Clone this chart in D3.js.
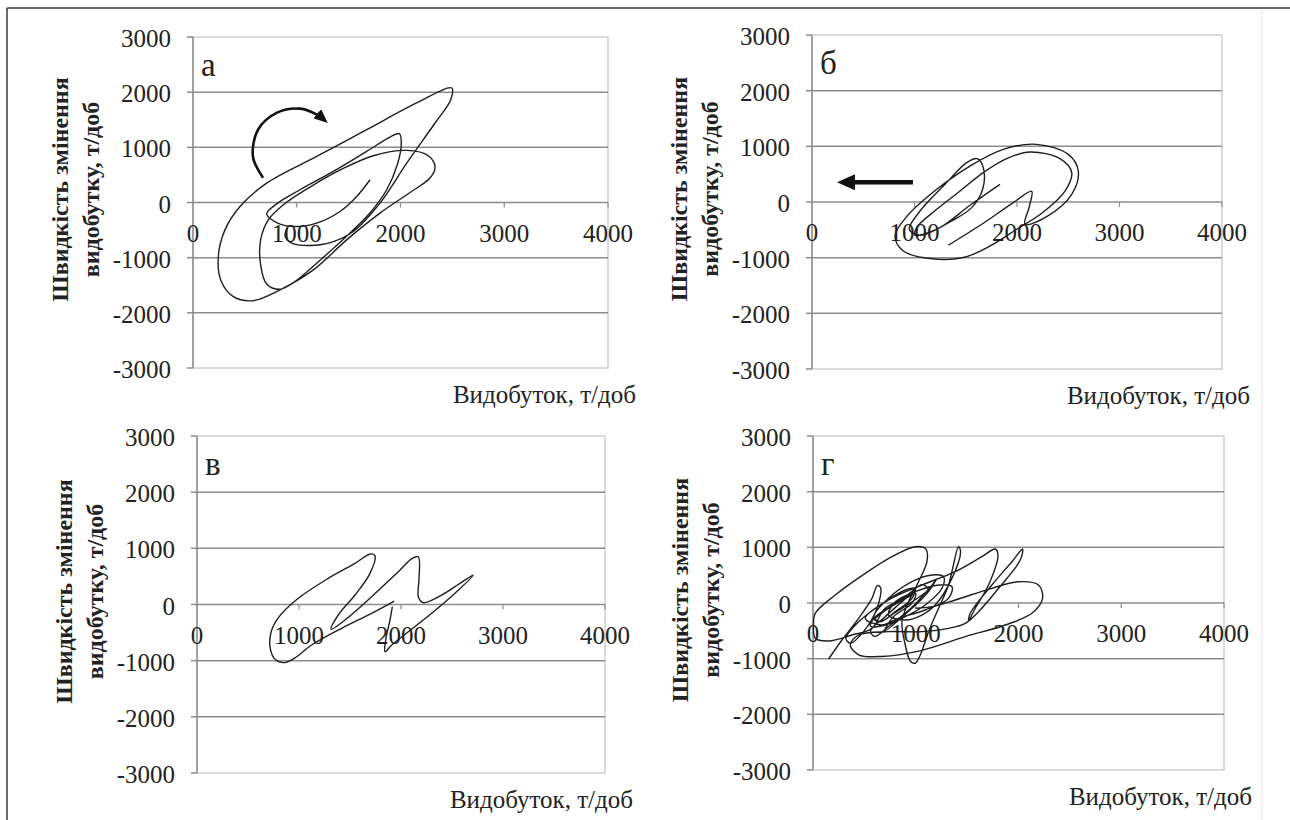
<!DOCTYPE html>
<html>
<head>
<meta charset="utf-8">
<script src="https://cdn.jsdelivr.net/npm/d3@7"></script>
<style>
  body { margin: 0; background: #fff; }
  text { font-family: "Liberation Serif", "Times New Roman", serif; fill: #222; }
</style>
</head>
<body>
<svg id="fig" width="1290" height="820"></svg>
<script>
// axis ticks and labels
var xTicks = [0, 1000, 2000, 3000, 4000];
var yTicks = [3000, 2000, 1000, 0, -1000, -2000, -3000];
var panelLetters = ["а", "б", "в", "г"];
var yTitle = ["Швидкість змінення", "видобутку, т/доб"];
var xTitle = "Видобуток, т/доб";

// phase trajectories: [видобуток, швидкість змінення]
var seriesA = [[1706,412],[1578,109],[1417,-163],[1192,-374],[999,-436],[806,-363],[710,-205],[806,-24],[1031,231],[1353,563],[1674,926],[1899,1187],[1989,1247],[2008,1065],[1969,684],[1867,231],[1690,-223],[1449,-665],[1192,-1100],[983,-1434],[839,-1572],[710,-1476],[652,-1131],[652,-677],[726,-314],[871,-42],[1128,280],[1449,617],[1738,848],[2060,944],[2268,848],[2333,642],[2284,443],[2092,182],[1802,-192],[1481,-677],[1160,-1222],[839,-1585],[582,-1779],[389,-1706],[267,-1403],[244,-980],[308,-496],[453,-73],[710,352],[1192,835],[1674,1320],[2156,1804],[2494,2076],[2484,1864],[2333,1441],[2060,715],[1802,-11],[1545,-526],[1353,-708],[1128,-780],[951,-737],[887,-604],[909,-465]];

var seriesB = [[1834,318],[1541,-59],[1265,-442],[1054,-598],[949,-490],[1054,-162],[1298,318],[1509,707],[1613,779],[1671,617],[1665,228],[1558,-101],[1363,-341],[1135,-549],[1005,-598],[1021,-460],[1217,-131],[1444,197],[1671,528],[1899,779],[2127,898],[2419,779],[2534,528],[2468,197],[2241,-203],[1997,-490],[1737,-790],[1476,-998],[1151,-1016],[891,-880],[810,-610],[924,-262],[1217,228],[1541,646],[1866,946],[2192,1036],[2501,856],[2598,556],[2534,138],[2290,-262],[2078,-400],[2120,-83],[2143,192],[1964,-11],[1656,-400],[1330,-777]];

var seriesC = [[1934,62],[1712,-157],[1418,-424],[1124,-721],[960,-950],[860,-1035],[770,-985],[718,-780],[728,-480],[800,-230],[993,110],[1287,466],[1549,733],[1700,900],[1745,870],[1696,555],[1549,169],[1385,-187],[1314,-441],[1451,-276],[1712,139],[1974,584],[2110,820],[2170,850],[2176,436],[2170,139],[2219,32],[2399,169],[2578,377],[2709,525],[2529,199],[2301,-157],[2072,-484],[1909,-721],[1843,-840],[1850,-632],[1892,-276],[1915,-39]];

var seriesD = [[152,-1006],[282,-665],[444,-275],[574,84],[626,311],[658,275],[623,-95],[492,-515],[363,-724],[321,-634],[444,-336],[703,23],[898,233],[995,264],[963,84],[801,-156],[655,-336],[590,-246],[735,84],[963,383],[1158,503],[1270,473],[1255,264],[1092,-36],[898,-246],[703,-395],[560,-420],[600,-260],[760,-60],[930,160],[1060,330],[1120,250],[980,40],[800,-170],[660,-330],[600,-300],[700,-140],[880,60],[1000,170],[960,-10],[780,-250],[700,-500],[900,-200],[1100,150],[1200,420],[1150,300],[950,-100],[750,-400],[600,-600],[560,-500],[700,-250],[850,0],[1000,250],[900,100],[700,-100],[574,-455],[379,-575],[152,-682],[22,-634],[5,-395],[22,-185],[217,144],[509,533],[769,832],[995,1011],[1099,970],[1109,742],[1027,383],[930,23],[866,-336],[898,-754],[947,-1042],[995,-1083],[1044,-934],[1125,-515],[1222,-95],[1319,323],[1416,1011],[1436,921],[1352,443],[1190,-36],[1060,-216],[898,-305],[735,-216],[801,23],[995,203],[1222,323],[1352,293],[1319,84],[1092,-126],[833,-275],[671,-395],[509,-275],[735,54],[1060,323],[1384,562],[1644,832],[1773,970],[1800,862],[1708,323],[1579,-95],[1514,-323],[1530,-185],[1741,323],[1936,742],[2039,970],[2017,772],[1806,264],[1611,-156],[1482,-365],[1319,-455],[1060,-515],[735,-515],[444,-575],[363,-754],[444,-930],[671,-960],[1060,-850],[1482,-605],[1871,-395],[2130,-185],[2234,84],[2195,323],[2000,383],[1741,264],[1384,54],[1158,-66],[995,-95]];

// arrows (annotation, data units)
var arrowA = [[675,448],[578,829],[627,1319],[810,1628],[1031,1701],[1195,1592],[1270,1490]];
var arrowB = [[985,354],[380,354]];

var svg = d3.select("#fig");

// outer frame
svg.append("line").attr("x1", 7).attr("y1", 8).attr("x2", 1290).attr("y2", 8)
  .attr("stroke", "#3a3a3a").attr("stroke-width", 1.5);
svg.append("line").attr("x1", 7).attr("y1", 8).attr("x2", 7).attr("y2", 820)
  .attr("stroke", "#3a3a3a").attr("stroke-width", 1.5);
svg.append("line").attr("x1", 1262).attr("y1", 10).attr("x2", 1262).attr("y2", 820)
  .attr("stroke", "#ececec").attr("stroke-width", 1.5);

var defs = svg.append("defs");
defs.append("marker").attr("id", "headA")
  .attr("markerUnits", "userSpaceOnUse")
  .attr("viewBox", "0 0 14 12").attr("refX", 10).attr("refY", 6)
  .attr("markerWidth", 14).attr("markerHeight", 12).attr("orient", "auto")
  .append("path").attr("d", "M0,0 L14,6 L0,12 Z").attr("fill", "#111");
defs.append("marker").attr("id", "headB")
  .attr("markerUnits", "userSpaceOnUse")
  .attr("viewBox", "0 0 18 16").attr("refX", 4).attr("refY", 8)
  .attr("markerWidth", 18).attr("markerHeight", 16).attr("orient", "auto")
  .append("path").attr("d", "M0,0 L18,8 L0,16 Z").attr("fill", "#111");

var panels = [
  { data: seriesA, x0: 193, x1: 608, y0: 37, y1: 368, arrow: arrowA, head: "headA", aw: 2.6 },
  { data: seriesB, x0: 812, x1: 1222, y0: 35, y1: 369, arrow: arrowB, head: "headB", aw: 4.5 },
  { data: seriesC, x0: 197, x1: 605, y0: 436, y1: 773 },
  { data: seriesD, x0: 813, x1: 1224, y0: 436, y1: 770 }
];

panels.forEach(function(p, i) {
  var x = d3.scaleLinear().domain([0, 4000]).range([p.x0, p.x1]);
  var y = d3.scaleLinear().domain([-3000, 3000]).range([p.y1, p.y0]);
  var g = svg.append("g");

  // plot area border
  g.append("rect")
    .attr("x", p.x0).attr("y", p.y0)
    .attr("width", p.x1 - p.x0).attr("height", p.y1 - p.y0)
    .attr("fill", "none").attr("stroke", "#cfcfcf").attr("stroke-width", 1.5);

  // horizontal gridlines
  g.selectAll(".grid")
    .data(yTicks.filter(function(d) { return d > -3000 && d < 3000; }))
    .enter().append("line")
    .attr("x1", p.x0).attr("x2", p.x1)
    .attr("y1", function(d) { return y(d); }).attr("y2", function(d) { return y(d); })
    .attr("stroke", "#8c8c8c").attr("stroke-width", 1.5);

  // y axis
  g.append("line").attr("x1", p.x0).attr("x2", p.x0).attr("y1", p.y0).attr("y2", p.y1)
    .attr("stroke", "#8c8c8c").attr("stroke-width", 1.5);
  g.selectAll(".ytick").data(yTicks).enter().append("line")
    .attr("x1", p.x0 - 6).attr("x2", p.x0)
    .attr("y1", function(d) { return y(d); }).attr("y2", function(d) { return y(d); })
    .attr("stroke", "#8c8c8c").attr("stroke-width", 1.5);
  g.selectAll(".ylab").data(yTicks).enter().append("text")
    .attr("x", p.x0 - 22).attr("y", function(d) { return y(d) + 10; })
    .attr("text-anchor", "end").attr("font-size", 25)
    .text(function(d) { return d; });

  // x axis ticks at zero line
  g.selectAll(".xtick").data(xTicks.slice(1)).enter().append("line")
    .attr("x1", function(d) { return x(d); }).attr("x2", function(d) { return x(d); })
    .attr("y1", y(0)).attr("y2", y(0) + 5)
    .attr("stroke", "#8c8c8c").attr("stroke-width", 1.2);
  g.selectAll(".xlab").data(xTicks).enter().append("text")
    .attr("x", function(d) { return x(d); }).attr("y", y(0) + 39)
    .attr("text-anchor", "middle").attr("font-size", 25)
    .text(function(d) { return d; });

  // axis titles
  var cy = (p.y0 + p.y1) / 2 - 13;
  yTitle.forEach(function(t, k) {
    g.append("text")
      .attr("transform", "translate(" + (p.x0 - 125 + k * 31) + "," + cy + ") rotate(-90)")
      .attr("text-anchor", "middle").attr("font-size", 24).attr("font-weight", "bold")
      .text(t);
  });
  g.append("text")
    .attr("x", p.x1 + 28).attr("y", p.y1 + 35)
    .attr("text-anchor", "end").attr("font-size", 25)
    .text(xTitle);

  // panel letter
  g.append("text").attr("x", p.x0 + 8).attr("y", p.y0 + 39)
    .attr("font-size", 33).text(panelLetters[i]);

  // trajectory
  var line = d3.line()
    .x(function(d) { return x(d[0]); })
    .y(function(d) { return y(d[1]); })
    .curve(d3.curveCatmullRom.alpha(0.5));
  g.append("path").datum(p.data)
    .attr("d", line)
    .attr("fill", "none").attr("stroke", "#1e1e1e").attr("stroke-width", 1.4);

  if (p.arrow) {
    g.append("path").datum(p.arrow)
      .attr("d", line)
      .attr("fill", "none").attr("stroke", "#111").attr("stroke-width", p.aw)
      .attr("marker-end", "url(#" + p.head + ")");
  }
});
</script>
</body>
</html>
